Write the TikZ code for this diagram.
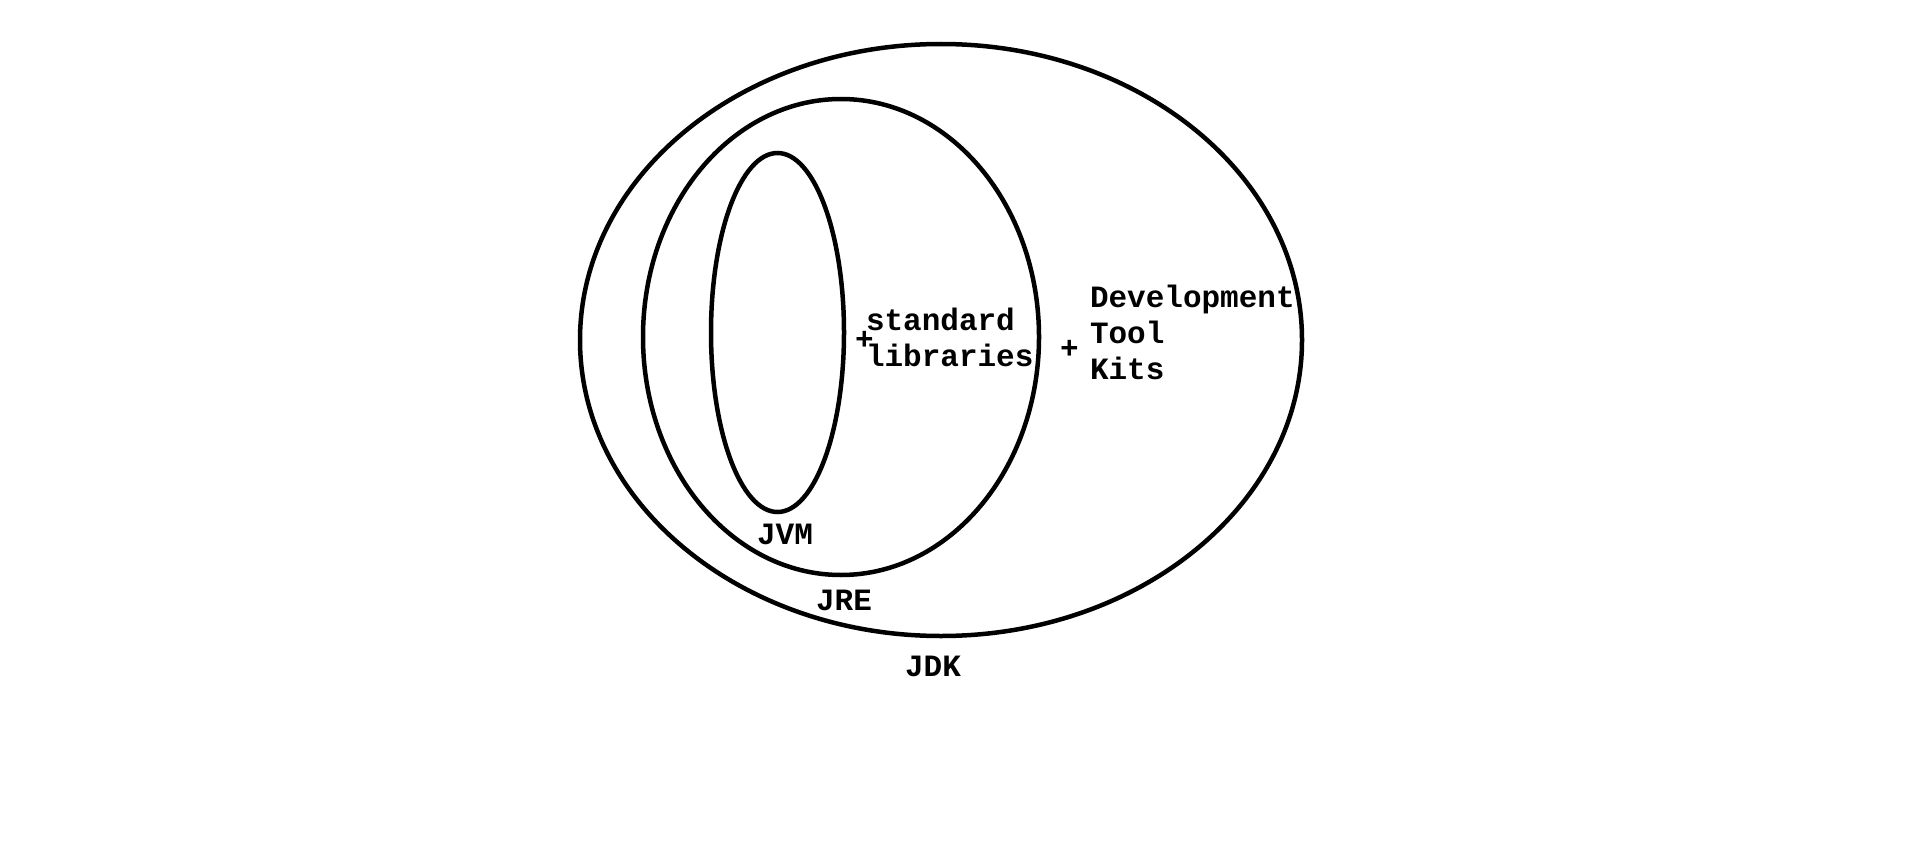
\documentclass[tikz,border=0pt]{standalone}
\usepackage{fontspec}
\setmonofont{Liberation Mono}
\usetikzlibrary{shapes.geometric}
\tikzset{
  ring/.style={draw=black, line width=4.5pt, ellipse, inner sep=0pt, outer sep=0pt},
  lbl/.style={font=\ttfamily\bfseries\fontsize{31}{36}\selectfont, inner sep=0pt, outer sep=0pt, text=black},
}
\begin{document}
\begin{tikzpicture}[x=1pt,y=-1pt]
\useasboundingbox[fill=white] (0,0) rectangle (1914,867);
\node[ring, minimum width=722pt, minimum height=592pt] (jdk) at (941,340) {};
\node[ring, minimum width=396pt, minimum height=476pt] (jre) at (841,337) {};
\node[ring, minimum width=133pt, minimum height=359pt] (jvm) at (777.5,332.5) {};
\node[lbl, anchor=base west, align=left] (stdlib) at (866,366) {standard\\libraries};
\node[lbl, anchor=center] (plusa) at (864.5,340.5) {+};
\node[lbl, anchor=center] (plusb) at (1069.5,349.5) {+};
\node[lbl, anchor=base west, align=left] (devtools) at (1090,379) {Development\\Tool\\Kits};
\node[lbl, anchor=base] (jvmlabel) at (785,544) {JVM};
\node[lbl, anchor=base] (jrelabel) at (844,610) {JRE};
\node[lbl, anchor=base] (jdklabel) at (933,676) {JDK};
\end{tikzpicture}
\end{document}
